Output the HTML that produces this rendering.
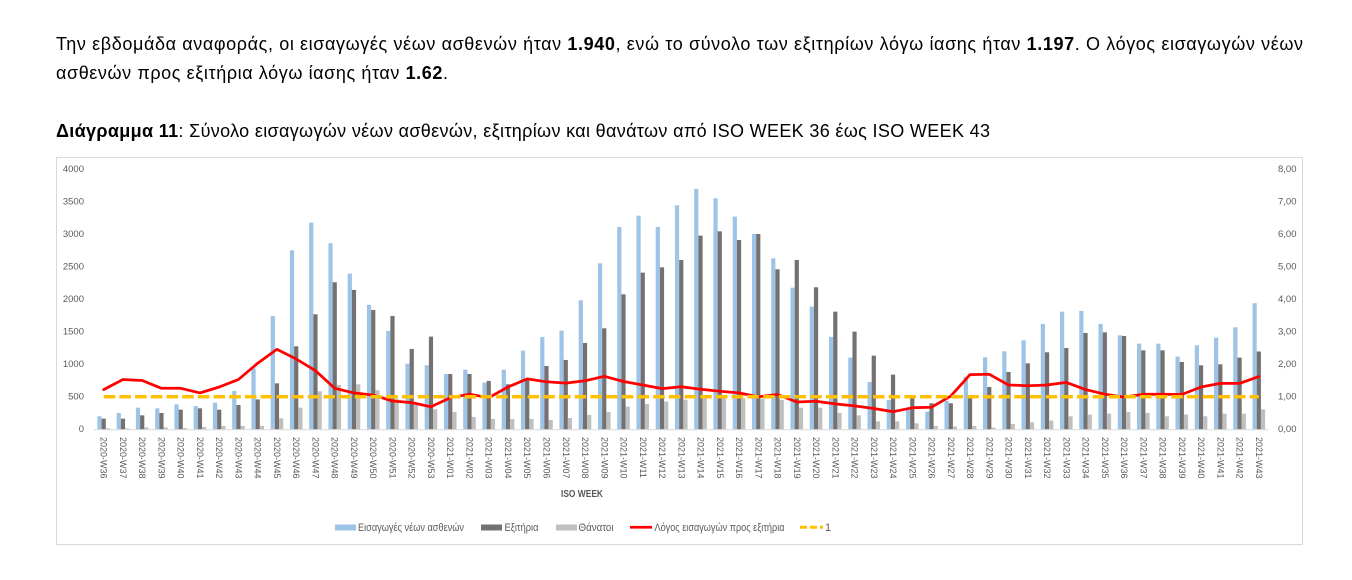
<!DOCTYPE html>
<html>
<head>
<meta charset="utf-8">
<style>
html,body{margin:0;padding:0;background:#fff;}
svg{display:block;}
.b{fill:#9DC3E6}
.d{fill:#767171}
.g{fill:#BFBFBF}
.ax{font-family:"Liberation Sans","DejaVu Sans",sans-serif;font-size:9.5px;fill:#595959;}
.xl{font-family:"Liberation Sans","DejaVu Sans",sans-serif;font-size:9px;fill:#595959;}
.lg{font-family:"Liberation Sans","DejaVu Sans",sans-serif;font-size:11px;fill:#595959;}
.tx{font-family:"Liberation Sans","DejaVu Sans",sans-serif;font-size:18px;fill:#000;}
</style>
</head>
<body>
<svg width="1352" height="580" viewBox="0 0 1352 580" xmlns="http://www.w3.org/2000/svg">
<rect x="0" y="0" width="1352" height="580" fill="#fff"/>
<text class="tx" x="56" y="50" textLength="1247" lengthAdjust="spacing">Την εβδομάδα αναφοράς, οι εισαγωγές νέων ασθενών ήταν <tspan font-weight="bold">1.940</tspan>, ενώ το σύνολο των εξιτηρίων λόγω ίασης ήταν <tspan font-weight="bold">1.197</tspan>.  Ο λόγος εισαγωγών νέων</text>
<text class="tx" x="56" y="79" textLength="392" lengthAdjust="spacing">ασθενών προς εξιτήρια λόγω ίασης ήταν <tspan font-weight="bold">1.62</tspan>.</text>
<text class="tx" x="56" y="137" textLength="934" lengthAdjust="spacing"><tspan font-weight="bold">Διάγραμμα 11</tspan>: Σύνολο εισαγωγών νέων ασθενών, εξιτηρίων και θανάτων από ISO WEEK 36 έως ISO WEEK 43</text>

<rect x="56.5" y="157.5" width="1246" height="387" fill="#fff" stroke="#D9D9D9" stroke-width="1"/>

<g class="ax" text-anchor="end" dominant-baseline="central">
<text x="84" y="429.3">0</text>
<text x="84" y="396.8">500</text>
<text x="84" y="364.3">1000</text>
<text x="84" y="331.8">1500</text>
<text x="84" y="299.3">2000</text>
<text x="84" y="266.8">2500</text>
<text x="84" y="234.3">3000</text>
<text x="84" y="201.8">3500</text>
<text x="84" y="169.3">4000</text>
</g>
<g class="ax" text-anchor="start" dominant-baseline="central">
<text x="1278" y="429.3">0,00</text>
<text x="1278" y="396.8">1,00</text>
<text x="1278" y="364.3">2,00</text>
<text x="1278" y="331.8">3,00</text>
<text x="1278" y="299.3">4,00</text>
<text x="1278" y="266.8">5,00</text>
<text x="1278" y="234.3">6,00</text>
<text x="1278" y="201.8">7,00</text>
<text x="1278" y="169.3">8,00</text>
</g>

<g transform="translate(0,429.3) scale(1,-0.065)">
<g transform="translate(103.70,0)"><rect class="b" x="-6.3" width="4.2" height="200"/><rect class="d" x="-2.1" width="4.2" height="164"/><rect class="g" x="2.1" width="4.2" height="15"/></g>
<g transform="translate(122.95,0)"><rect class="b" x="-6.3" width="4.2" height="251"/><rect class="d" x="-2.1" width="4.2" height="164"/><rect class="g" x="2.1" width="4.2" height="15"/></g>
<g transform="translate(142.20,0)"><rect class="b" x="-6.3" width="4.2" height="333"/><rect class="d" x="-2.1" width="4.2" height="215"/><rect class="g" x="2.1" width="4.2" height="30"/></g>
<g transform="translate(161.46,0)"><rect class="b" x="-6.3" width="4.2" height="323"/><rect class="d" x="-2.1" width="4.2" height="251"/><rect class="g" x="2.1" width="4.2" height="30"/></g>
<g transform="translate(180.71,0)"><rect class="b" x="-6.3" width="4.2" height="384"/><rect class="d" x="-2.1" width="4.2" height="302"/><rect class="g" x="2.1" width="4.2" height="20"/></g>
<g transform="translate(199.96,0)"><rect class="b" x="-6.3" width="4.2" height="358"/><rect class="d" x="-2.1" width="4.2" height="323"/><rect class="g" x="2.1" width="4.2" height="36"/></g>
<g transform="translate(219.21,0)"><rect class="b" x="-6.3" width="4.2" height="410"/><rect class="d" x="-2.1" width="4.2" height="302"/><rect class="g" x="2.1" width="4.2" height="51"/></g>
<g transform="translate(238.46,0)"><rect class="b" x="-6.3" width="4.2" height="589"/><rect class="d" x="-2.1" width="4.2" height="374"/><rect class="g" x="2.1" width="4.2" height="51"/></g>
<g transform="translate(257.72,0)"><rect class="b" x="-6.3" width="4.2" height="937"/><rect class="d" x="-2.1" width="4.2" height="460"/><rect class="g" x="2.1" width="4.2" height="51"/></g>
<g transform="translate(276.97,0)"><rect class="b" x="-6.3" width="4.2" height="1741"/><rect class="d" x="-2.1" width="4.2" height="707"/><rect class="g" x="2.1" width="4.2" height="169"/></g>
<g transform="translate(296.22,0)"><rect class="b" x="-6.3" width="4.2" height="2754"/><rect class="d" x="-2.1" width="4.2" height="1277"/><rect class="g" x="2.1" width="4.2" height="333"/></g>
<g transform="translate(315.47,0)"><rect class="b" x="-6.3" width="4.2" height="3179"/><rect class="d" x="-2.1" width="4.2" height="1769"/><rect class="g" x="2.1" width="4.2" height="585"/></g>
<g transform="translate(334.72,0)"><rect class="b" x="-6.3" width="4.2" height="2862"/><rect class="d" x="-2.1" width="4.2" height="2262"/><rect class="g" x="2.1" width="4.2" height="682"/></g>
<g transform="translate(353.98,0)"><rect class="b" x="-6.3" width="4.2" height="2395"/><rect class="d" x="-2.1" width="4.2" height="2144"/><rect class="g" x="2.1" width="4.2" height="692"/></g>
<g transform="translate(373.23,0)"><rect class="b" x="-6.3" width="4.2" height="1913"/><rect class="d" x="-2.1" width="4.2" height="1836"/><rect class="g" x="2.1" width="4.2" height="600"/></g>
<g transform="translate(392.48,0)"><rect class="b" x="-6.3" width="4.2" height="1513"/><rect class="d" x="-2.1" width="4.2" height="1744"/><rect class="g" x="2.1" width="4.2" height="470"/></g>
<g transform="translate(411.73,0)"><rect class="b" x="-6.3" width="4.2" height="1010"/><rect class="d" x="-2.1" width="4.2" height="1236"/><rect class="g" x="2.1" width="4.2" height="374"/></g>
<g transform="translate(430.98,0)"><rect class="b" x="-6.3" width="4.2" height="985"/><rect class="d" x="-2.1" width="4.2" height="1426"/><rect class="g" x="2.1" width="4.2" height="308"/></g>
<g transform="translate(450.24,0)"><rect class="b" x="-6.3" width="4.2" height="851"/><rect class="d" x="-2.1" width="4.2" height="851"/><rect class="g" x="2.1" width="4.2" height="267"/></g>
<g transform="translate(469.49,0)"><rect class="b" x="-6.3" width="4.2" height="918"/><rect class="d" x="-2.1" width="4.2" height="851"/><rect class="g" x="2.1" width="4.2" height="190"/></g>
<g transform="translate(488.74,0)"><rect class="b" x="-6.3" width="4.2" height="718"/><rect class="d" x="-2.1" width="4.2" height="744"/><rect class="g" x="2.1" width="4.2" height="159"/></g>
<g transform="translate(507.99,0)"><rect class="b" x="-6.3" width="4.2" height="918"/><rect class="d" x="-2.1" width="4.2" height="692"/><rect class="g" x="2.1" width="4.2" height="159"/></g>
<g transform="translate(527.24,0)"><rect class="b" x="-6.3" width="4.2" height="1210"/><rect class="d" x="-2.1" width="4.2" height="780"/><rect class="g" x="2.1" width="4.2" height="159"/></g>
<g transform="translate(546.50,0)"><rect class="b" x="-6.3" width="4.2" height="1421"/><rect class="d" x="-2.1" width="4.2" height="974"/><rect class="g" x="2.1" width="4.2" height="144"/></g>
<g transform="translate(565.75,0)"><rect class="b" x="-6.3" width="4.2" height="1518"/><rect class="d" x="-2.1" width="4.2" height="1067"/><rect class="g" x="2.1" width="4.2" height="174"/></g>
<g transform="translate(585.00,0)"><rect class="b" x="-6.3" width="4.2" height="1985"/><rect class="d" x="-2.1" width="4.2" height="1328"/><rect class="g" x="2.1" width="4.2" height="221"/></g>
<g transform="translate(604.25,0)"><rect class="b" x="-6.3" width="4.2" height="2554"/><rect class="d" x="-2.1" width="4.2" height="1554"/><rect class="g" x="2.1" width="4.2" height="267"/></g>
<g transform="translate(623.50,0)"><rect class="b" x="-6.3" width="4.2" height="3113"/><rect class="d" x="-2.1" width="4.2" height="2077"/><rect class="g" x="2.1" width="4.2" height="349"/></g>
<g transform="translate(642.76,0)"><rect class="b" x="-6.3" width="4.2" height="3287"/><rect class="d" x="-2.1" width="4.2" height="2410"/><rect class="g" x="2.1" width="4.2" height="390"/></g>
<g transform="translate(662.01,0)"><rect class="b" x="-6.3" width="4.2" height="3113"/><rect class="d" x="-2.1" width="4.2" height="2492"/><rect class="g" x="2.1" width="4.2" height="426"/></g>
<g transform="translate(681.26,0)"><rect class="b" x="-6.3" width="4.2" height="3446"/><rect class="d" x="-2.1" width="4.2" height="2605"/><rect class="g" x="2.1" width="4.2" height="456"/></g>
<g transform="translate(700.51,0)"><rect class="b" x="-6.3" width="4.2" height="3697"/><rect class="d" x="-2.1" width="4.2" height="2979"/><rect class="g" x="2.1" width="4.2" height="492"/></g>
<g transform="translate(719.76,0)"><rect class="b" x="-6.3" width="4.2" height="3554"/><rect class="d" x="-2.1" width="4.2" height="3046"/><rect class="g" x="2.1" width="4.2" height="477"/></g>
<g transform="translate(739.02,0)"><rect class="b" x="-6.3" width="4.2" height="3272"/><rect class="d" x="-2.1" width="4.2" height="2913"/><rect class="g" x="2.1" width="4.2" height="477"/></g>
<g transform="translate(758.27,0)"><rect class="b" x="-6.3" width="4.2" height="3005"/><rect class="d" x="-2.1" width="4.2" height="3005"/><rect class="g" x="2.1" width="4.2" height="470"/></g>
<g transform="translate(777.52,0)"><rect class="b" x="-6.3" width="4.2" height="2631"/><rect class="d" x="-2.1" width="4.2" height="2462"/><rect class="g" x="2.1" width="4.2" height="450"/></g>
<g transform="translate(796.77,0)"><rect class="b" x="-6.3" width="4.2" height="2179"/><rect class="d" x="-2.1" width="4.2" height="2605"/><rect class="g" x="2.1" width="4.2" height="333"/></g>
<g transform="translate(816.02,0)"><rect class="b" x="-6.3" width="4.2" height="1887"/><rect class="d" x="-2.1" width="4.2" height="2185"/><rect class="g" x="2.1" width="4.2" height="333"/></g>
<g transform="translate(835.28,0)"><rect class="b" x="-6.3" width="4.2" height="1421"/><rect class="d" x="-2.1" width="4.2" height="1810"/><rect class="g" x="2.1" width="4.2" height="251"/></g>
<g transform="translate(854.53,0)"><rect class="b" x="-6.3" width="4.2" height="1103"/><rect class="d" x="-2.1" width="4.2" height="1503"/><rect class="g" x="2.1" width="4.2" height="215"/></g>
<g transform="translate(873.78,0)"><rect class="b" x="-6.3" width="4.2" height="728"/><rect class="d" x="-2.1" width="4.2" height="1133"/><rect class="g" x="2.1" width="4.2" height="123"/></g>
<g transform="translate(893.03,0)"><rect class="b" x="-6.3" width="4.2" height="451"/><rect class="d" x="-2.1" width="4.2" height="841"/><rect class="g" x="2.1" width="4.2" height="123"/></g>
<g transform="translate(912.28,0)"><rect class="b" x="-6.3" width="4.2" height="300"/><rect class="d" x="-2.1" width="4.2" height="503"/><rect class="g" x="2.1" width="4.2" height="92"/></g>
<g transform="translate(931.54,0)"><rect class="b" x="-6.3" width="4.2" height="272"/><rect class="d" x="-2.1" width="4.2" height="400"/><rect class="g" x="2.1" width="4.2" height="51"/></g>
<g transform="translate(950.79,0)"><rect class="b" x="-6.3" width="4.2" height="436"/><rect class="d" x="-2.1" width="4.2" height="400"/><rect class="g" x="2.1" width="4.2" height="41"/></g>
<g transform="translate(970.04,0)"><rect class="b" x="-6.3" width="4.2" height="810"/><rect class="d" x="-2.1" width="4.2" height="477"/><rect class="g" x="2.1" width="4.2" height="51"/></g>
<g transform="translate(989.29,0)"><rect class="b" x="-6.3" width="4.2" height="1108"/><rect class="d" x="-2.1" width="4.2" height="651"/><rect class="g" x="2.1" width="4.2" height="26"/></g>
<g transform="translate(1008.54,0)"><rect class="b" x="-6.3" width="4.2" height="1200"/><rect class="d" x="-2.1" width="4.2" height="882"/><rect class="g" x="2.1" width="4.2" height="82"/></g>
<g transform="translate(1027.80,0)"><rect class="b" x="-6.3" width="4.2" height="1369"/><rect class="d" x="-2.1" width="4.2" height="1015"/><rect class="g" x="2.1" width="4.2" height="108"/></g>
<g transform="translate(1047.05,0)"><rect class="b" x="-6.3" width="4.2" height="1621"/><rect class="d" x="-2.1" width="4.2" height="1185"/><rect class="g" x="2.1" width="4.2" height="133"/></g>
<g transform="translate(1066.30,0)"><rect class="b" x="-6.3" width="4.2" height="1810"/><rect class="d" x="-2.1" width="4.2" height="1251"/><rect class="g" x="2.1" width="4.2" height="200"/></g>
<g transform="translate(1085.55,0)"><rect class="b" x="-6.3" width="4.2" height="1821"/><rect class="d" x="-2.1" width="4.2" height="1482"/><rect class="g" x="2.1" width="4.2" height="226"/></g>
<g transform="translate(1104.80,0)"><rect class="b" x="-6.3" width="4.2" height="1621"/><rect class="d" x="-2.1" width="4.2" height="1492"/><rect class="g" x="2.1" width="4.2" height="241"/></g>
<g transform="translate(1124.06,0)"><rect class="b" x="-6.3" width="4.2" height="1446"/><rect class="d" x="-2.1" width="4.2" height="1436"/><rect class="g" x="2.1" width="4.2" height="267"/></g>
<g transform="translate(1143.31,0)"><rect class="b" x="-6.3" width="4.2" height="1318"/><rect class="d" x="-2.1" width="4.2" height="1215"/><rect class="g" x="2.1" width="4.2" height="251"/></g>
<g transform="translate(1162.56,0)"><rect class="b" x="-6.3" width="4.2" height="1318"/><rect class="d" x="-2.1" width="4.2" height="1215"/><rect class="g" x="2.1" width="4.2" height="200"/></g>
<g transform="translate(1181.81,0)"><rect class="b" x="-6.3" width="4.2" height="1118"/><rect class="d" x="-2.1" width="4.2" height="1036"/><rect class="g" x="2.1" width="4.2" height="226"/></g>
<g transform="translate(1201.06,0)"><rect class="b" x="-6.3" width="4.2" height="1292"/><rect class="d" x="-2.1" width="4.2" height="985"/><rect class="g" x="2.1" width="4.2" height="200"/></g>
<g transform="translate(1220.32,0)"><rect class="b" x="-6.3" width="4.2" height="1410"/><rect class="d" x="-2.1" width="4.2" height="1000"/><rect class="g" x="2.1" width="4.2" height="241"/></g>
<g transform="translate(1239.57,0)"><rect class="b" x="-6.3" width="4.2" height="1569"/><rect class="d" x="-2.1" width="4.2" height="1103"/><rect class="g" x="2.1" width="4.2" height="241"/></g>
<g transform="translate(1258.82,0)"><rect class="b" x="-6.3" width="4.2" height="1940"/><rect class="d" x="-2.1" width="4.2" height="1197"/><rect class="g" x="2.1" width="4.2" height="308"/></g>
</g>

<line x1="94" y1="429.8" x2="1268.5" y2="429.8" stroke="#D9D9D9" stroke-width="1"/>

<polyline fill="none" stroke="#FF0000" stroke-width="2.75" stroke-linejoin="round" stroke-linecap="round" points="103.70,389.6 122.95,379.5 142.20,380.5 161.46,388.3 180.71,388.3 199.96,392.9 219.21,387.0 238.46,379.5 257.72,363.2 276.97,349.3 296.22,359.0 315.47,370.7 334.72,388.3 353.98,392.9 373.23,395.1 392.48,401.0 411.73,402.6 430.98,406.8 450.24,397.7 469.49,394.2 488.74,397.7 507.99,387.0 527.24,378.9 546.50,381.8 565.75,383.1 585.00,380.8 604.25,376.3 623.50,381.5 642.76,385.0 662.01,388.6 681.26,386.7 700.51,389.3 719.76,391.2 739.02,392.9 758.27,396.8 777.52,394.5 796.77,402.0 816.02,401.3 835.28,403.9 854.53,405.9 873.78,408.5 893.03,411.7 912.28,407.8 931.54,407.2 950.79,396.1 970.04,374.6 989.29,374.3 1008.54,385.0 1027.80,385.7 1047.05,385.0 1066.30,382.4 1085.55,389.6 1104.80,394.2 1124.06,397.1 1143.31,394.2 1162.56,394.2 1181.81,394.5 1201.06,387.0 1220.32,383.4 1239.57,383.4 1258.82,376.6"/>

<line x1="103.7" y1="396.8" x2="1258.8" y2="396.8" stroke="#FFC000" stroke-width="3.5" stroke-dasharray="11.5,4.2"/>

<g class="xl" dominant-baseline="central">
<text transform="translate(103.70,437) rotate(90)">2020-W36</text>
<text transform="translate(122.95,437) rotate(90)">2020-W37</text>
<text transform="translate(142.20,437) rotate(90)">2020-W38</text>
<text transform="translate(161.46,437) rotate(90)">2020-W39</text>
<text transform="translate(180.71,437) rotate(90)">2020-W40</text>
<text transform="translate(199.96,437) rotate(90)">2020-W41</text>
<text transform="translate(219.21,437) rotate(90)">2020-W42</text>
<text transform="translate(238.46,437) rotate(90)">2020-W43</text>
<text transform="translate(257.72,437) rotate(90)">2020-W44</text>
<text transform="translate(276.97,437) rotate(90)">2020-W45</text>
<text transform="translate(296.22,437) rotate(90)">2020-W46</text>
<text transform="translate(315.47,437) rotate(90)">2020-W47</text>
<text transform="translate(334.72,437) rotate(90)">2020-W48</text>
<text transform="translate(353.98,437) rotate(90)">2020-W49</text>
<text transform="translate(373.23,437) rotate(90)">2020-W50</text>
<text transform="translate(392.48,437) rotate(90)">2020-W51</text>
<text transform="translate(411.73,437) rotate(90)">2020-W52</text>
<text transform="translate(430.98,437) rotate(90)">2020-W53</text>
<text transform="translate(450.24,437) rotate(90)">2021-W01</text>
<text transform="translate(469.49,437) rotate(90)">2021-W02</text>
<text transform="translate(488.74,437) rotate(90)">2021-W03</text>
<text transform="translate(507.99,437) rotate(90)">2021-W04</text>
<text transform="translate(527.24,437) rotate(90)">2021-W05</text>
<text transform="translate(546.50,437) rotate(90)">2021-W06</text>
<text transform="translate(565.75,437) rotate(90)">2021-W07</text>
<text transform="translate(585.00,437) rotate(90)">2021-W08</text>
<text transform="translate(604.25,437) rotate(90)">2021-W09</text>
<text transform="translate(623.50,437) rotate(90)">2021-W10</text>
<text transform="translate(642.76,437) rotate(90)">2021-W11</text>
<text transform="translate(662.01,437) rotate(90)">2021-W12</text>
<text transform="translate(681.26,437) rotate(90)">2021-W13</text>
<text transform="translate(700.51,437) rotate(90)">2021-W14</text>
<text transform="translate(719.76,437) rotate(90)">2021-W15</text>
<text transform="translate(739.02,437) rotate(90)">2021-W16</text>
<text transform="translate(758.27,437) rotate(90)">2021-W17</text>
<text transform="translate(777.52,437) rotate(90)">2021-W18</text>
<text transform="translate(796.77,437) rotate(90)">2021-W19</text>
<text transform="translate(816.02,437) rotate(90)">2021-W20</text>
<text transform="translate(835.28,437) rotate(90)">2021-W21</text>
<text transform="translate(854.53,437) rotate(90)">2021-W22</text>
<text transform="translate(873.78,437) rotate(90)">2021-W23</text>
<text transform="translate(893.03,437) rotate(90)">2021-W24</text>
<text transform="translate(912.28,437) rotate(90)">2021-W25</text>
<text transform="translate(931.54,437) rotate(90)">2021-W26</text>
<text transform="translate(950.79,437) rotate(90)">2021-W27</text>
<text transform="translate(970.04,437) rotate(90)">2021-W28</text>
<text transform="translate(989.29,437) rotate(90)">2021-W29</text>
<text transform="translate(1008.54,437) rotate(90)">2021-W30</text>
<text transform="translate(1027.80,437) rotate(90)">2021-W31</text>
<text transform="translate(1047.05,437) rotate(90)">2021-W32</text>
<text transform="translate(1066.30,437) rotate(90)">2021-W33</text>
<text transform="translate(1085.55,437) rotate(90)">2021-W34</text>
<text transform="translate(1104.80,437) rotate(90)">2021-W35</text>
<text transform="translate(1124.06,437) rotate(90)">2021-W36</text>
<text transform="translate(1143.31,437) rotate(90)">2021-W37</text>
<text transform="translate(1162.56,437) rotate(90)">2021-W38</text>
<text transform="translate(1181.81,437) rotate(90)">2021-W39</text>
<text transform="translate(1201.06,437) rotate(90)">2021-W40</text>
<text transform="translate(1220.32,437) rotate(90)">2021-W41</text>
<text transform="translate(1239.57,437) rotate(90)">2021-W42</text>
<text transform="translate(1258.82,437) rotate(90)">2021-W43</text>
</g>

<text x="561" y="497" font-family="Liberation Sans, DejaVu Sans, sans-serif" font-size="10" font-weight="bold" fill="#595959" textLength="42" lengthAdjust="spacingAndGlyphs">ISO WEEK</text>

<rect x="335" y="524.5" width="21" height="6" fill="#9DC3E6"/>
<text class="lg" x="358" y="531" textLength="106" lengthAdjust="spacingAndGlyphs">Εισαγωγές νέων ασθενών</text>
<rect x="481" y="524.5" width="21" height="6" fill="#767171"/>
<text class="lg" x="504.5" y="531" textLength="34" lengthAdjust="spacingAndGlyphs">Εξιτήρια</text>
<rect x="556" y="524.5" width="21" height="6" fill="#BFBFBF"/>
<text class="lg" x="578.5" y="531" textLength="35" lengthAdjust="spacingAndGlyphs">Θάνατοι</text>
<line x1="630" y1="527.3" x2="652" y2="527.3" stroke="#FF0000" stroke-width="2.75"/>
<text class="lg" x="654.5" y="531" textLength="130" lengthAdjust="spacingAndGlyphs">Λόγος εισαγωγών προς εξιτήρια</text>
<line x1="800" y1="527.3" x2="823" y2="527.3" stroke="#FFC000" stroke-width="3" stroke-dasharray="7,3"/>
<text class="lg" x="825" y="531">1</text>
</svg>
</body>
</html>
